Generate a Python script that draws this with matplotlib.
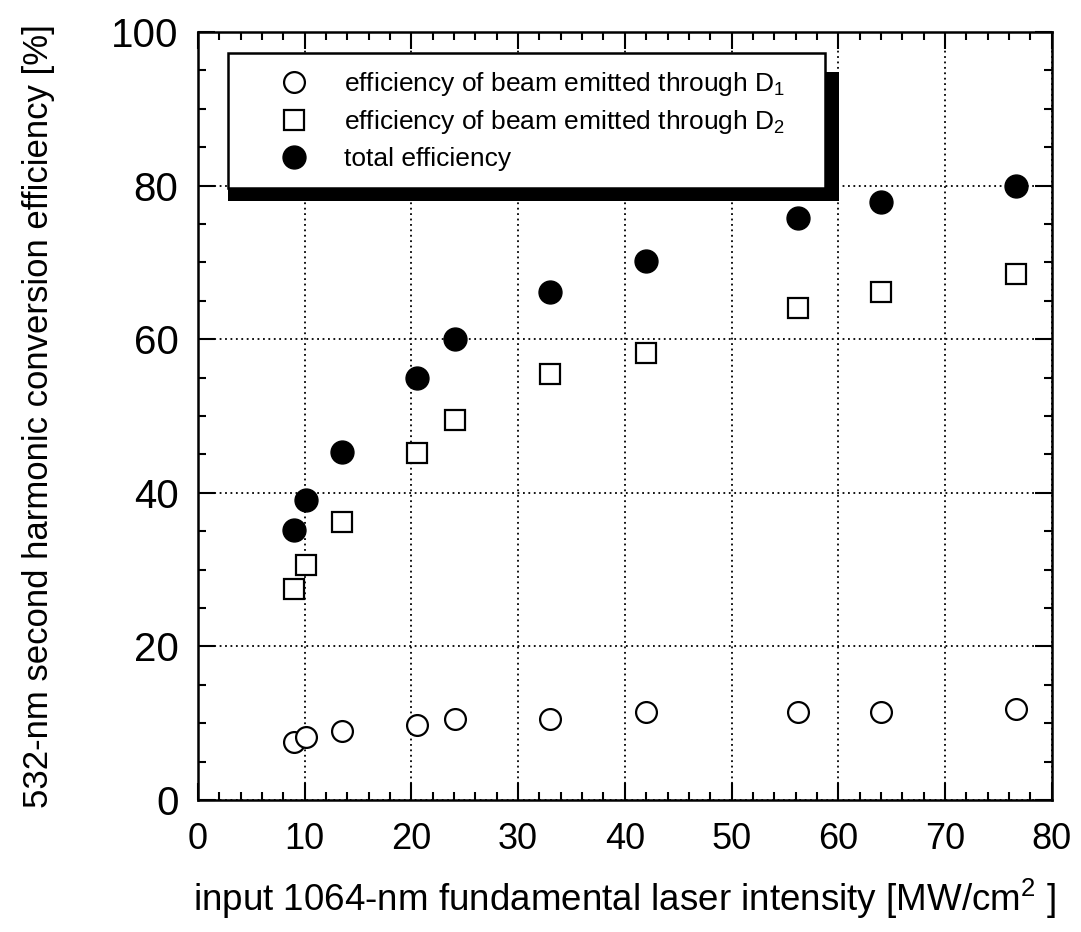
import matplotlib
matplotlib.use("Agg")
import matplotlib.pyplot as plt
from matplotlib.ticker import MultipleLocator
from matplotlib.patches import Rectangle

plt.rcParams['font.family'] = ['Liberation Sans', 'DejaVu Sans']
plt.rcParams['mathtext.default'] = 'regular'

# input intensity [MW/cm^2]
intensity = [9.0, 10.1, 13.5, 20.5, 24.1, 33.0, 42.0, 56.2, 64.0, 76.6]
# conversion efficiency [%]
eff_d1 = [7.6, 8.2, 9.0, 9.8, 10.6, 10.6, 11.4, 11.4, 11.4, 11.8]
eff_d2 = [27.5, 30.6, 36.2, 45.2, 49.5, 55.5, 58.2, 64.0, 66.1, 68.5]
eff_total = [35.2, 39.1, 45.3, 55.0, 60.0, 66.1, 70.2, 75.8, 77.9, 80.0]

labels = ['efficiency of beam emitted through D$_1$',
          'efficiency of beam emitted through D$_2$',
          'total efficiency']

fig = plt.figure(figsize=(10.81, 9.32), dpi=100)
ax = fig.add_axes([0.183, 0.1416, 0.790, 0.8241])

ax.plot(intensity, eff_d1, 'o', ms=15, mfc='white', mec='black', mew=1.6,
        label=labels[0], zorder=3)
ax.plot(intensity, eff_d2, 's', ms=15, mfc='white', mec='black', mew=1.6,
        label=labels[1], zorder=3)
ax.plot(intensity, eff_total, 'o', ms=16.5, mfc='black', mec='black', mew=1,
        label=labels[2], zorder=3)

ax.set_xlim(0, 80)
ax.set_ylim(0, 100)
ax.xaxis.set_major_locator(MultipleLocator(10))
ax.xaxis.set_minor_locator(MultipleLocator(2))
ax.yaxis.set_major_locator(MultipleLocator(20))
ax.yaxis.set_minor_locator(MultipleLocator(5))

ax.tick_params(which='both', direction='in', top=True, right=True,
               width=1.5, colors='black')
ax.tick_params(which='major', length=12)
ax.tick_params(which='minor', length=6)
ax.tick_params(axis='x', which='major', labelsize=26, pad=16)
ax.tick_params(axis='y', which='major', labelsize=29, pad=14)
for sp in ax.spines.values():
    sp.set_linewidth(1.8)

ax.grid(True, which='major', color='black', linestyle=(0, (1, 2)),
        linewidth=1.3)

ax.set_xlabel('input 1064-nm fundamental laser intensity [MW/cm$^2$ ]',
              fontsize=26.5, labelpad=14)
ax.set_ylabel('532-nm second harmonic conversion efficiency [%]',
              fontsize=25, labelpad=40)

leg = ax.legend(loc='upper left', bbox_to_anchor=(0.035, 0.5, 0.699, 0.473),
                mode='expand', borderaxespad=0, fontsize=19,
                frameon=True, fancybox=False, edgecolor='black',
                framealpha=1, handlelength=3.75, handletextpad=0.0,
                borderpad=0.65, labelspacing=0.4, numpoints=1)
leg.get_frame().set_linewidth(1.8)
leg.set_zorder(5)

# heavy drop shadow along bottom and right edge of the legend box
fig.canvas.draw()
bb = leg.get_frame().get_window_extent().transformed(fig.transFigure.inverted())
dx = 14 / fig.bbox.width
dy = 13 / fig.bbox.height
shadow = Rectangle((bb.x0, bb.y0 - dy), bb.width + dx, bb.height - dy / 2,
                   transform=fig.transFigure, facecolor='black',
                   edgecolor='none', zorder=4.5)
ax.add_artist(shadow)
shadow.set_clip_on(False)

fig.savefig('out.png', dpi=100)
